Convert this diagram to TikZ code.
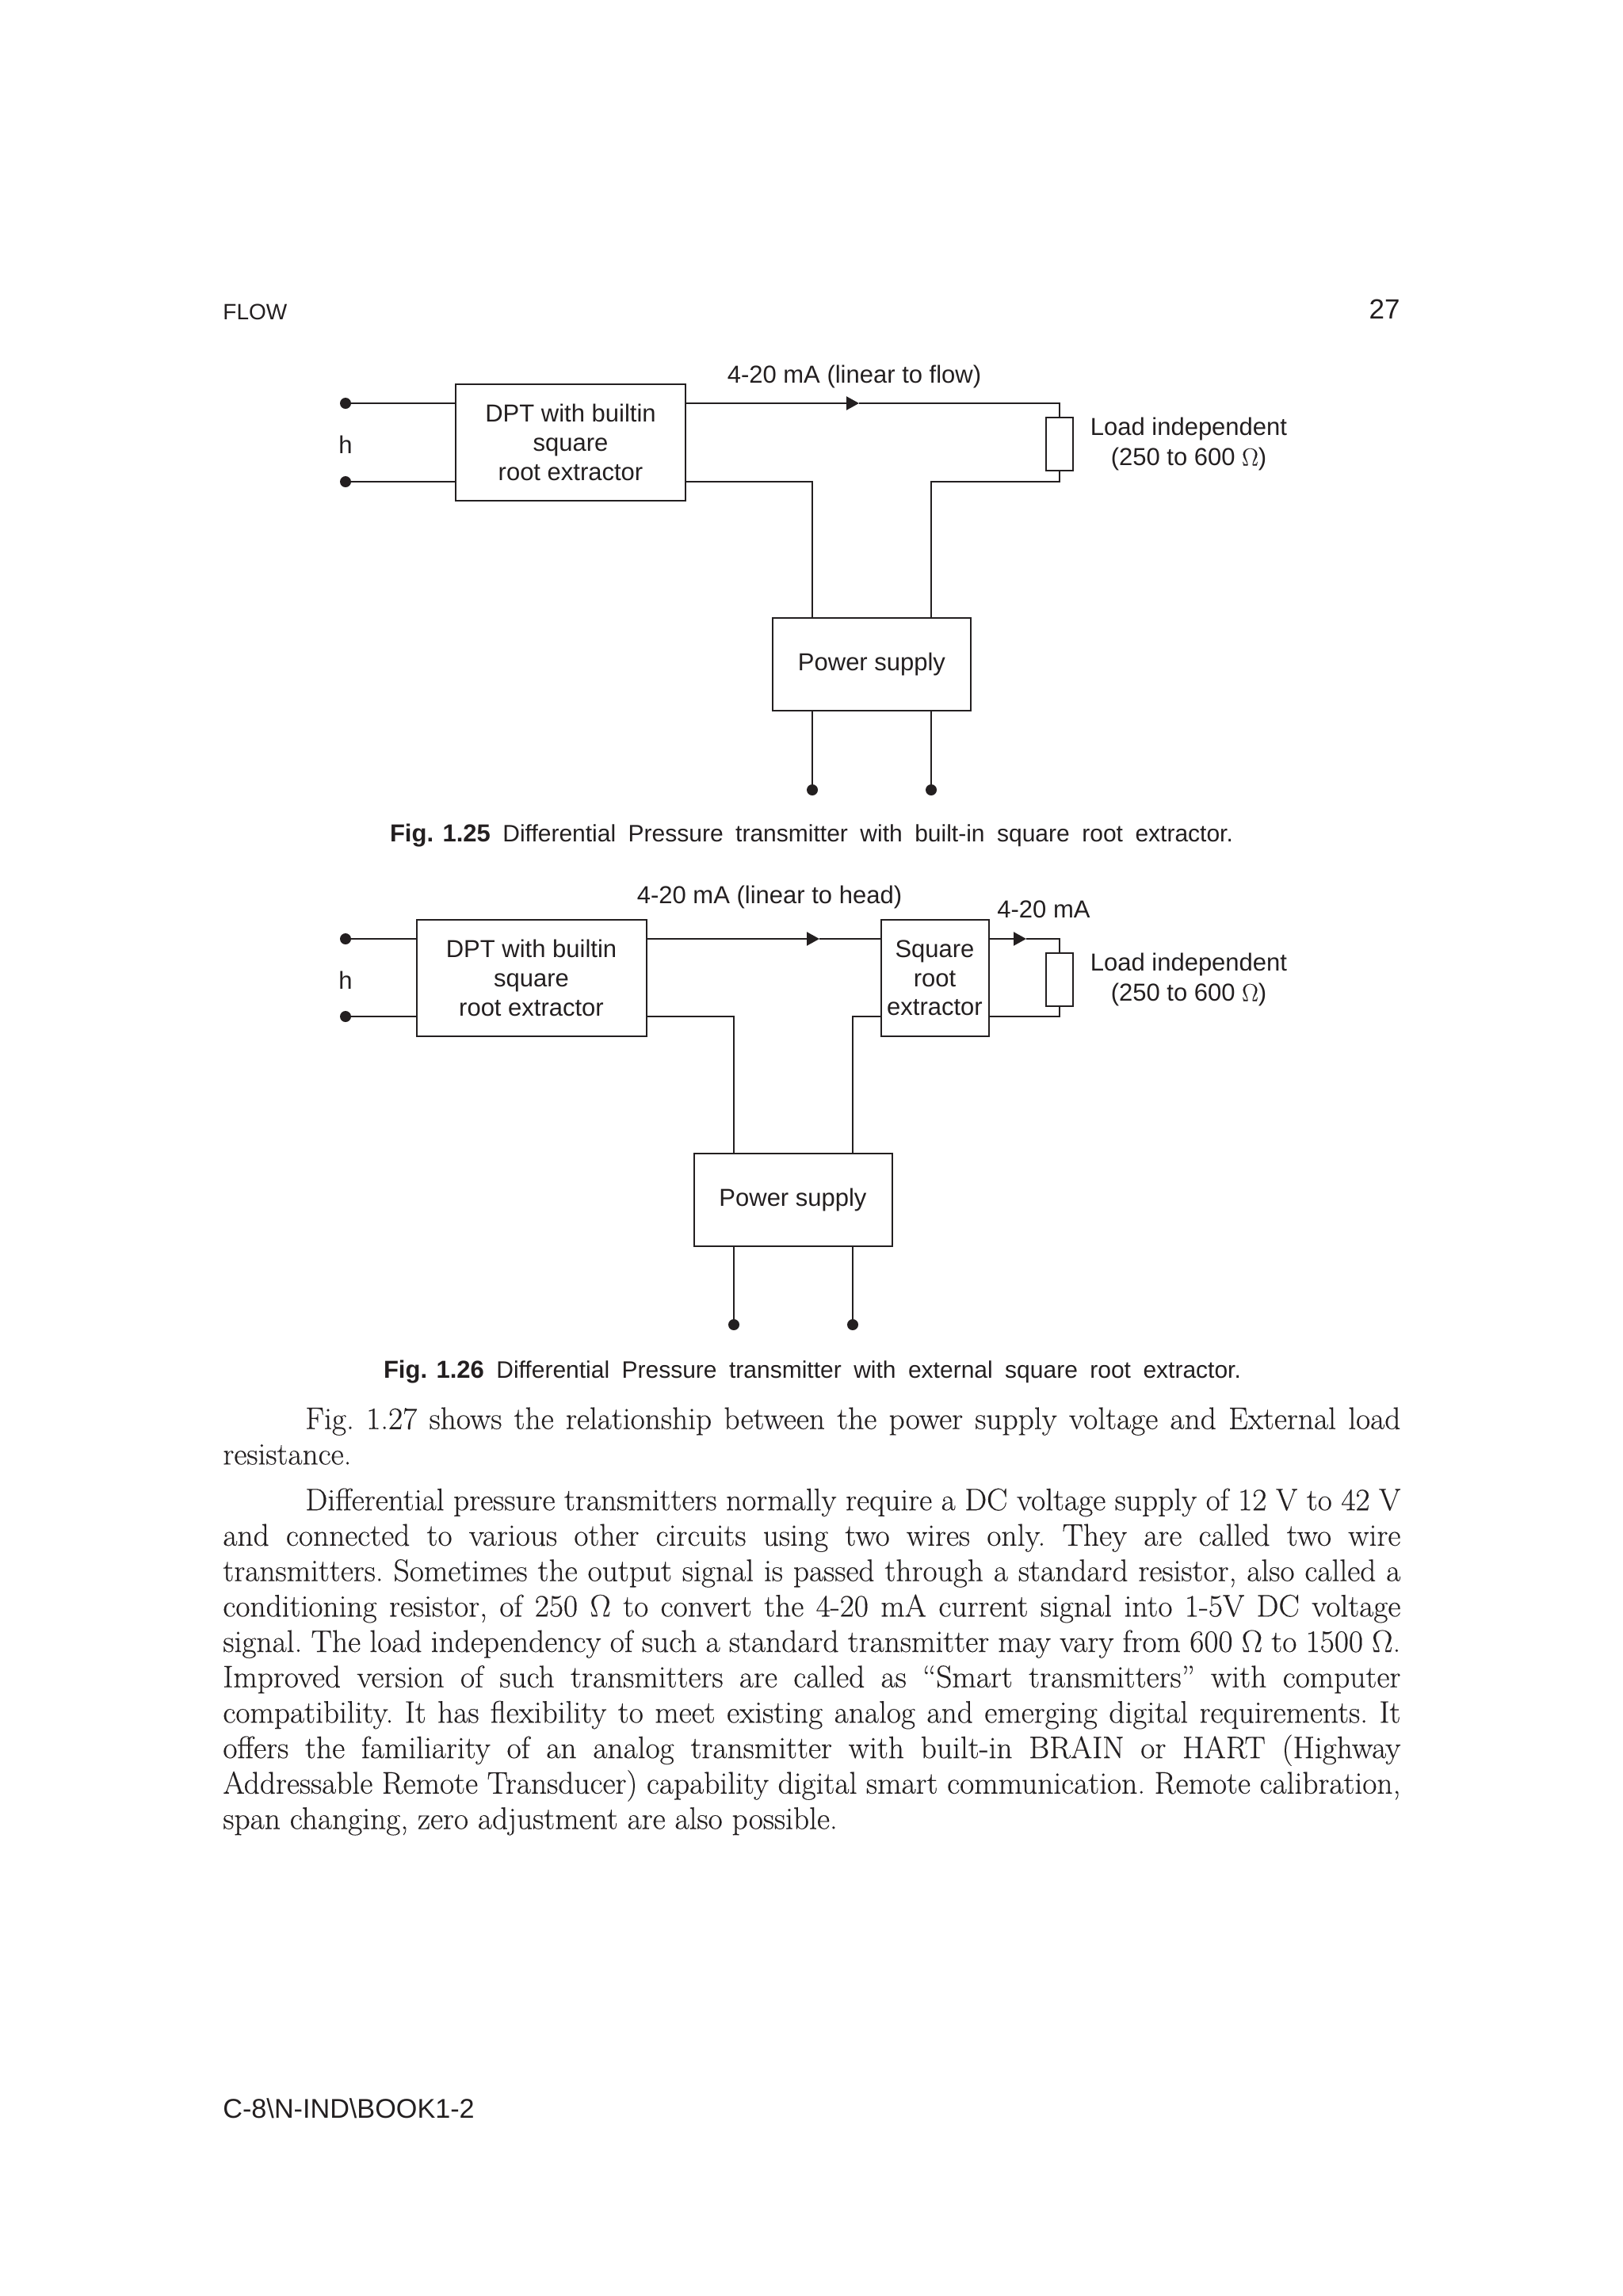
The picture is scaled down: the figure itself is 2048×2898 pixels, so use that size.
\documentclass[tikz,border=0pt]{standalone}
\usepackage{amsmath,amssymb,amsfonts}
\usepackage{xcolor}
\usepackage{fontspec}
\newfontfamily\labelfont{Liberation Sans}
\newfontfamily\bodyfont[FakeBold=0.25]{Latin Modern Roman}
\usepackage{tikz}
\usetikzlibrary{arrows.meta,positioning}
\definecolor{inkblack}{HTML}{231F20}
\newcommand{\ohm}{{\bodyfont Ω}}
\newcommand{\figtag}[1]{\mbox{\fontsize{15.5}{18}\selectfont\textbf{Fig. #1}}}
\begin{document}
\begin{tikzpicture}[
    x=0.5pt, y=-0.5pt,
    node distance=10pt and 10pt,
    every node/.style={text=inkblack},
    block/.style={rectangle, draw=inkblack, line width=1pt, align=center, inner sep=0pt, outer sep=0pt, font=\labelfont\fontsize{15.5}{18.3}\selectfont},
    block_dpt/.style={block, minimum width=145pt, minimum height=73.5pt},
    block_psu/.style={block, minimum width=125pt, minimum height=58.5pt},
    block_root/.style={block, minimum width=68pt, minimum height=73.5pt},
    block_load/.style={block, minimum width=17pt, minimum height=33.5pt},
    terminal/.style={circle, fill=inkblack, inner sep=0pt, outer sep=0pt, minimum size=7pt},
    label/.style={font=\labelfont\fontsize{15.5}{19}\selectfont, align=center, inner sep=0pt},
    caption/.style={font=\labelfont\fontsize{15}{18}\selectfont, inner sep=0pt},
    para/.style={anchor=north west, inner sep=0pt, text width=743pt, align=justify, font=\bodyfont\fontsize{19.7}{22.35}\selectfont\frenchspacing},
    wire/.style={draw=inkblack, line width=1.1pt},
    arrow/.style={wire, -{Triangle[length=8pt,width=8.5pt]}}
]
    \useasboundingbox (0,0) rectangle (2048,2898);

    % Page head
    \node (head) [anchor=west, inner sep=0pt, font=\labelfont\fontsize{14}{16}\selectfont] at (281,393.5) {FLOW};
    \node (pageno) [anchor=east, inner sep=0pt, font=\labelfont\fontsize{17.5}{20}\selectfont] at (1767,390) {27};

    % Nodes (Fig. 1.25)
    \node (dpt_a) [block_dpt] at (720,558.5) {DPT with builtin\\square\\root extractor};
    \node (psu_a) [block_psu, below right=74pt and 55pt of dpt_a.south east, anchor=north west] {Power supply};
    \node (load_a) [block_load] at (1337,560) {};
    \node (in_a1) [terminal] at (436,509) {};
    \node (in_a2) [terminal] at (436,608) {};
    \node (out_a1) [terminal] at (1025,997) {};
    \node (out_a2) [terminal] at (1175,997) {};
    \coordinate (mark_a) at (1084,509);

    % Labels
    \node (h_a) [label] at (436,561) {h};
    \node (sig_a) [label] at (1078,475.5) {4-20 mA (linear to flow)};
    \node (val_a) [label] at (1500,560.5) {Load independent\\(250 to 600 \ohm)};
    \node (cap_a) [caption] at (1024,1054.5) {\makebox[532pt][s]{\figtag{1.25} Differential Pressure transmitter with built-in square root extractor.}};

    % Arrows
    \draw [wire] (in_a1) -- (dpt_a.west |- in_a1);
    \draw [wire] (in_a2) -- (dpt_a.west |- in_a2);
    \draw [arrow] (dpt_a.east |- in_a1) -- (mark_a);
    \draw [wire] (mark_a) -- (load_a.north |- in_a1) -- (load_a.north);
    \draw [wire] (load_a.south) -- (load_a.south |- in_a2) -- (out_a2 |- in_a2) -- (out_a2 |- psu_a.north);
    \draw [wire] (dpt_a.east |- in_a2) -- (out_a1 |- in_a2) -- (out_a1 |- psu_a.north);
    \draw [wire] (out_a1 |- psu_a.south) -- (out_a1);
    \draw [wire] (out_a2 |- psu_a.south) -- (out_a2);

    % Nodes (Fig. 1.26)
    \node (dpt_b) [block_dpt] at (670.5,1234.5) {DPT with builtin\\square\\root extractor};
    \node (root_b) [block_root, right=148pt of dpt_b] {Square\\root\\extractor};
    \node (psu_b) [block_psu, below right=74pt and 30pt of dpt_b.south east, anchor=north west] {Power supply};
    \node (load_b) [block_load] at (1337,1236.5) {};
    \node (in_b1) [terminal] at (436,1185) {};
    \node (in_b2) [terminal] at (436,1283) {};
    \node (out_b1) [terminal] at (926,1672) {};
    \node (out_b2) [terminal] at (1076,1672) {};
    \coordinate (mark_b) at (1034,1185);
    \coordinate (mark_c) at (1295,1185);

    % Labels
    \node (h_b) [label] at (436,1237) {h};
    \node (sig_b) [label] at (971,1132.5) {4-20 mA (linear to head)};
    \node (sig_c) [label] at (1317,1148) {4-20 mA};
    \node (val_b) [label] at (1500,1236.5) {Load independent\\(250 to 600 \ohm)};
    \node (cap_b) [caption] at (1025,1731.5) {\makebox[541pt][s]{\figtag{1.26} Differential Pressure transmitter with external square root extractor.}};

    % Arrows
    \draw [wire] (in_b1) -- (dpt_b.west |- in_b1);
    \draw [wire] (in_b2) -- (dpt_b.west |- in_b2);
    \draw [arrow] (dpt_b.east |- in_b1) -- (mark_b);
    \draw [wire] (mark_b) -- (root_b.west |- in_b1);
    \draw [arrow] (root_b.east |- in_b1) -- (mark_c);
    \draw [wire] (mark_c) -- (load_b.north |- in_b1) -- (load_b.north);
    \draw [wire] (load_b.south) -- (load_b.south |- in_b2) -- (root_b.east |- in_b2);
    \draw [wire] (root_b.west |- in_b2) -- (out_b2 |- in_b2) -- (out_b2 |- psu_b.north);
    \draw [wire] (dpt_b.east |- in_b2) -- (out_b1 |- in_b2) -- (out_b1 |- psu_b.north);
    \draw [wire] (out_b1 |- psu_b.south) -- (out_b1);
    \draw [wire] (out_b2 |- psu_b.south) -- (out_b2);

    % Body text
    \node (para_a) [para] at (281,1776) {\hspace*{52pt}Fig. 1.27 shows the relationship between the power supply voltage and External load\linebreak resistance.};
    \node (para_b) [para, below=14.5pt of para_a.south west, anchor=north west] {\hspace*{52pt}Differential pressure transmitters normally require a DC voltage supply of 12 V to 42 V\linebreak
    and connected to various other circuits using two wires only. They are called two wire\linebreak
    transmitters. Sometimes the output signal is passed through a standard resistor, also called a\linebreak
    conditioning resistor, of 250 \ohm\ to convert the 4-20 mA current signal into 1-5V DC voltage\linebreak
    signal. The load independency of such a standard transmitter may vary from 600 \ohm\ to 1500 \ohm.\linebreak
    Improved version of such transmitters are called as “Smart transmitters” with computer\linebreak
    compatibility. It has flexibility to meet existing analog and emerging digital requirements. It\linebreak
    offers the familiarity of an analog transmitter with built-in BRAIN or HART (Highway\linebreak
    Addressable Remote Transducer) capability digital smart communication. Remote calibration,\linebreak
    span changing, zero adjustment are also possible.};

    % Page foot
    \node (foot) [anchor=west, inner sep=0pt, font=\labelfont\fontsize{17.1}{20}\selectfont] at (281,2661) {C-8\textbackslash N-IND\textbackslash BOOK1-2};
\end{tikzpicture}
\end{document}
